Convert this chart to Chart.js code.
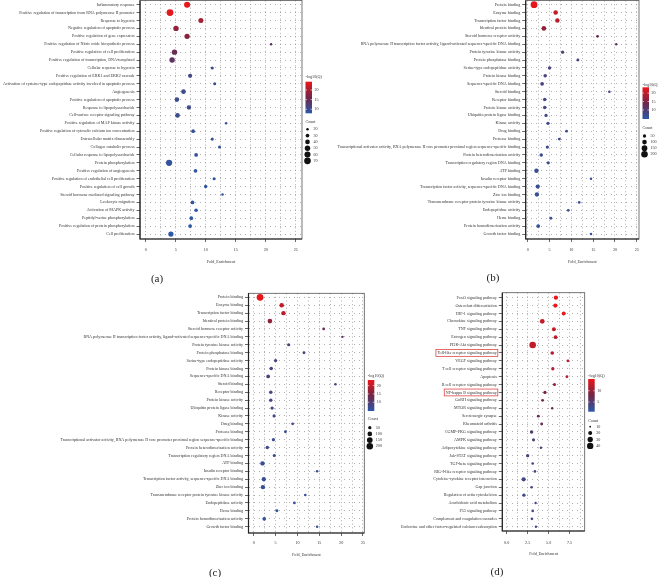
<!DOCTYPE html>
<html>
<head>
<meta charset="utf-8">
<script src="https://cdn.jsdelivr.net/npm/chart.js@4.4.1/dist/chart.umd.min.js"></script>
<style>
  body { margin: 0; background: #fff; width: 658px; height: 577px; position: relative; overflow: hidden; font-family: "Liberation Serif", serif; }
  canvas { position: absolute; }
  .tag { position: absolute; font-size: 11px; color: #222; transform: translate(-50%, -50%); }
</style>
</head>
<body>
<canvas id="chartA"></canvas>
<canvas id="chartB"></canvas>
<canvas id="chartC"></canvas>
<canvas id="chartD"></canvas>
<div class="tag" style="left:157px;top:278px">(a)</div>
<div class="tag" style="left:493px;top:277px">(b)</div>
<div class="tag" style="left:215px;top:572px">(c)</div>
<div class="tag" style="left:497px;top:571px">(d)</div>
<script>
// ---- data: (a) biological process ----
const termsA = [
  "Inflammatory response",
  "Positive regulation of transcription from RNA polymerase II promoter",
  "Response to hypoxia",
  "Negative regulation of apoptotic process",
  "Positive regulation of gene expression",
  "Positive regulation of Nitric oxide biosynthetic process",
  "Positive regulation of cell proliferation",
  "Positive regulation of transcription, DNA-templated",
  "Cellular response to hypoxia",
  "Positive regulation of ERK1 and ERK2 cascade",
  "Activation of cysteine-type endopeptidase activity involved in apoptotic process",
  "Angiogenesis",
  "Positive regulation of apoptotic process",
  "Response to lipopolysaccharide",
  "Cell-surface receptor signaling pathway",
  "Positive regulation of MAP kinase activity",
  "Positive regulation of cytosolic calcium ion concentration",
  "Extracellular matrix disassembly",
  "Collagen catabolic process",
  "Cellular response to lipopolysaccharide",
  "Protein phosphorylation",
  "Positive regulation of angiogenesis",
  "Positive regulation of endothelial cell proliferation",
  "Positive regulation of cell growth",
  "Steroid hormone mediated signaling pathway",
  "Leukocyte migration",
  "Activation of MAPK activity",
  "Peptidyl-serine phosphorylation",
  "Positive regulation of protein phosphorylation",
  "Cell proliferation"
];
const foldA = [6.9, 4.05, 9.2, 5.05, 6.9, 20.9, 4.8, 4.4, 11.1, 7.4, 11.5, 6.3, 5.2, 7.2, 5.3,
               13.4, 7.9, 11.1, 12.3, 8.4, 3.9, 8.3, 11.4, 10.0, 12.8, 7.8, 8.4, 7.6, 7.4, 4.2];
const countA = [60, 72, 45, 50, 48, 20, 50, 50, 24, 35, 24, 40, 40, 36, 40,
                20, 30, 24, 24, 30, 62, 30, 24, 27, 20, 30, 29, 30, 31, 48];
const logqA = [24.3, 23.8, 19.5, 18.5, 17.8, 13.5, 15, 14, 10.2, 10.5, 10.2, 10.2, 10, 10, 9.8,
               9, 9.2, 9, 9, 9, 8.8, 8.6, 8.5, 8.5, 8.3, 8.2, 8.2, 8, 8, 8];

// ---- data: (b) and (c) molecular function ----
const termsB = [
  "Protein binding",
  "Enzyme binding",
  "Transcription factor binding",
  "Identical protein binding",
  "Steroid hormone receptor activity",
  "RNA polymerase II transcription factor activity, ligand-activated sequence-specific DNA binding",
  "Protein tyrosine kinase activity",
  "Protein phosphatase binding",
  "Serine-type endopeptidase activity",
  "Protein kinase binding",
  "Sequence-specific DNA binding",
  "Steroid binding",
  "Receptor binding",
  "Protein kinase activity",
  "Ubiquitin protein ligase binding",
  "Kinase activity",
  "Drug binding",
  "Protease binding",
  "Transcriptional activator activity, RNA polymerase II core promoter proximal region sequence-specific binding",
  "Protein heterodimerization activity",
  "Transcription regulatory region DNA binding",
  "ATP binding",
  "Insulin receptor binding",
  "Transcription factor activity, sequence-specific DNA binding",
  "Zinc ion binding",
  "Transmembrane receptor protein tyrosine kinase activity",
  "Endopeptidase activity",
  "Heme binding",
  "Protein homodimerization activity",
  "Growth factor binding"
];
const foldB = [1.45, 6.4, 6.8, 3.7, 16.0, 20.3, 8.0, 11.5, 5.0, 4.0, 3.3, 18.7, 3.9, 3.9, 4.2,
               4.65, 8.9, 7.25, 4.5, 3.1, 4.7, 2.0, 14.5, 2.3, 2.1, 11.8, 9.3, 5.3, 2.4, 14.5];
const countB = [215, 95, 90, 100, 35, 25, 45, 38, 50, 55, 65, 28, 55, 55, 48,
                45, 35, 38, 48, 55, 45, 90, 28, 85, 85, 30, 35, 40, 65, 28];
const logqB = [23.2, 20.5, 19.5, 16.5, 13, 12, 9.5, 9, 8.8, 8.6, 8.4, 8.2, 8, 8, 7.8,
               7.6, 7.4, 7.2, 7, 7, 6.8, 6.6, 6.5, 6.4, 6.3, 6.2, 6, 6, 5.9, 5.8];

// ---- data: (d) KEGG pathways ----
const termsD = [
  "FoxO signaling pathway",
  "Osteoclast differentiation",
  "HIF-1 signaling pathway",
  "Chemokine signaling pathway",
  "TNF signaling pathway",
  "Estrogen signaling pathway",
  "PI3K-Akt signaling pathway",
  "Toll-like receptor signaling pathway",
  "VEGF signaling pathway",
  "T cell receptor signaling pathway",
  "Apoptosis",
  "B cell receptor signaling pathway",
  "NF-kappa B signaling pathway",
  "GnRH signaling pathway",
  "MTOR signaling pathway",
  "Serotonergic synapse",
  "Rheumatoid arthritis",
  "CGMP-PKG signaling pathway",
  "AMPK signaling pathway",
  "Adipocytokine signaling pathway",
  "Jak-STAT signaling pathway",
  "TGF-beta signaling pathway",
  "RIG-I-like receptor signaling pathway",
  "Cytokine-cytokine receptor interaction",
  "Gap junction",
  "Regulation of actin cytoskeleton",
  "Arachidonic acid metabolism",
  "P53 signaling pathway",
  "Complement and coagulation cascades",
  "Endocrine and other factor-regulated calcium reabsorption"
];
const foldD = [5.87, 5.8, 6.8, 4.24, 5.63, 5.83, 3.1, 5.43, 7.3, 5.5, 7.18, 5.7, 4.56, 4.28, 5.43,
               3.77, 4.17, 2.97, 3.2, 4.08, 2.5, 3.1, 3.37, 2.02, 2.97, 2.06, 3.45, 3.1, 3.01, 3.49];
const countD = [22, 22, 20, 25, 20, 19, 42, 18, 14, 16, 14, 15, 16, 14, 12,
                14, 14, 17, 15, 12, 16, 13, 13, 22, 13, 16, 12, 13, 13, 12];
const logqD = [15.5, 15.3, 15, 13, 13, 12.8, 12.8, 12, 12, 12, 12, 10.5, 8, 7.5, 7.5,
               7, 7, 5, 4, 4, 3.8, 3.6, 3.5, 3.4, 3.3, 3.2, 3.1, 3.0, 3.0, 2.9];
const highlightD = [7, 12]; // boxed in red

// ---- tick labels ----
const xTicks25 = [0, 5, 10, 15, 20, 25];
const xGrid25 = [0, 2.5, 5, 7.5, 10, 12.5, 15, 17.5, 20, 22.5, 25];
const xTicksD = [0, 2.5, 5, 7.5];
const xGridD = [0, 1.25, 2.5, 3.75, 5, 6.25, 7.5, 8.75];
const qTicksA = [10, 15, 20];
const qTicksB = [10, 15, 20];
const qTicksD = [5, 10];
const countTicksA = [20, 30, 40, 50, 60, 70];
const countTicksB = [50, 100, 150, 200];
const countTicksD = [10, 20, 30, 40];

// colour scale: blue -> dark red -> red
const LOW = [44, 88, 168], MID = [112, 38, 70], HIGH = [234, 22, 26];
function mix(a, b, t) { return a.map((v, i) => Math.round(v + (b[i] - v) * t)); }
function rgb(c) { return 'rgb(' + c.join(',') + ')'; }
function qColor(v, lo, hi) {
  const t = Math.min(1, Math.max(0, (v - lo) / (hi - lo)));
  return rgb(t < 0.5 ? mix(LOW, MID, t * 2) : mix(MID, HIGH, (t - 0.5) * 2));
}
function radius(c, p) {
  const t = (c - p.cmin) / (p.cmax - p.cmin);
  return Math.sqrt(p.rmin * p.rmin + t * (p.rmax * p.rmax - p.rmin * p.rmin));
}

const FAM = "'Liberation Serif', serif";
const F = { family: FAM, size: 4.1 };
const TXT = '#333';

const boxPlugin = {
  id: 'box',
  beforeDatasetsDraw(chart) {
    const { ctx, chartArea: a } = chart;
    ctx.save();
    ctx.strokeStyle = '#555'; ctx.lineWidth = 0.8;
    ctx.strokeRect(a.left, a.top, a.right - a.left, a.bottom - a.top);
    ctx.strokeStyle = '#222'; ctx.lineWidth = 1.2;
    ctx.beginPath();
    ctx.moveTo(a.left, a.top); ctx.lineTo(a.left, a.bottom); ctx.lineTo(a.right, a.bottom);
    ctx.stroke();
    ctx.restore();
  }
};

// colour bar + size legend to the right of the plot, red boxes round labels
function legendFor(p) {
  return {
    id: 'sideLegend',
    afterDraw(chart) {
      const { ctx, chartArea: a } = chart;
      const L = p.legend;
      const x = a.right + 3.5, top = a.top;
      ctx.save();
      ctx.font = '4.1px ' + FAM;
      ctx.textBaseline = 'middle';
      ctx.fillStyle = TXT;
      ctx.fillText('-log10(Q)', x, top + L.title);
      const by = top + L.bar, bh = L.barH, bw = 6.5;
      const g = ctx.createLinearGradient(0, by + bh, 0, by);
      g.addColorStop(0, rgb(LOW)); g.addColorStop(0.5, rgb(MID)); g.addColorStop(1, rgb(HIGH));
      ctx.fillStyle = g;
      ctx.fillRect(x, by, bw, bh);
      ctx.strokeStyle = '#fff'; ctx.lineWidth = 0.6;
      p.qTicks.forEach(v => {
        const ty = by + bh - (v - p.qmin) / (p.qmax - p.qmin) * bh;
        ctx.beginPath();
        ctx.moveTo(x, ty); ctx.lineTo(x + 1.5, ty);
        ctx.moveTo(x + bw - 1.5, ty); ctx.lineTo(x + bw, ty);
        ctx.stroke();
        ctx.fillStyle = TXT;
        ctx.fillText(String(v), x + bw + 2.5, ty);
      });
      ctx.fillText('Count', x, top + L.count);
      p.countTicks.forEach((c, i) => {
        const cy = top + L.item0 + i * L.step;
        ctx.fillStyle = '#111';
        ctx.beginPath(); ctx.arc(x + 2, cy, radius(c, p), 0, 2 * Math.PI); ctx.fill();
        ctx.fillStyle = TXT;
        ctx.fillText(String(c), x + 8, cy);
      });
      if (p.highlight) {
        const ys = chart.scales.y;
        ctx.strokeStyle = '#e04545'; ctx.lineWidth = 0.8;
        p.highlight.forEach(i => {
          const w = ctx.measureText(p.terms[i]).width;
          const right = a.left - 5;
          const cy = ys.getPixelForValue(i);
          ctx.strokeRect(right - w - 2, cy - 3.4, w + 2.5, 6.8);
        });
      }
      ctx.restore();
    }
  };
}

function panel(id, p) {
  const cv = document.getElementById(id);
  cv.width = p.w; cv.height = p.h;
  cv.style.left = p.l + 'px'; cv.style.top = p.t + 'px';
  const XH = p.axisBottom - p.y1;
  new Chart(cv, {
    type: 'bubble',
    data: {
      datasets: [{
        data: p.fold.map((f, i) => ({ x: f, y: i, r: radius(p.count[i], p) })),
        backgroundColor: p.logq.map(v => qColor(v, p.qmin, p.qmax)),
        borderWidth: 0
      }]
    },
    options: {
      responsive: false,
      animation: false,
      events: [],
      layout: { padding: { left: 0, top: p.y0 - p.t, right: p.l + p.w - p.x1, bottom: p.t + p.h - p.axisBottom } },
      plugins: { legend: { display: false }, tooltip: { enabled: false } },
      scales: {
        x: {
          type: 'linear', min: p.xmin, max: p.xmax,
          afterBuildTicks: s => { s.ticks = p.xGrid.map(v => ({ value: v })); },
          afterFit: s => { s.height = XH; },
          border: { display: false, dash: [1, 2.6] },
          grid: {
            color: '#9a9a9a', lineWidth: 0.8, tickLength: 3,
            tickColor: c => (c.tick && p.xTicks.includes(c.tick.value)) ? '#444' : 'rgba(0,0,0,0)',
            tickBorderDash: []
          },
          ticks: {
            autoSkip: false, maxRotation: 0, padding: p.xpad, font: F, color: TXT,
            callback: v => p.xTicks.includes(v) ? p.xfmt(v) : ''
          },
          title: { display: true, text: 'Fold_Enrichment', font: F, color: TXT, padding: 0 }
        },
        y: {
          type: 'linear', reverse: true, min: p.ymin, max: p.ymax,
          afterBuildTicks: s => { s.ticks = p.terms.map((_, i) => ({ value: i })); },
          afterFit: s => { s.width = p.x0 - p.l; },
          border: { display: false, dash: [1, 4] },
          grid: { color: '#9a9a9a', lineWidth: 0.8, tickLength: 3.5, tickColor: '#444', tickBorderDash: [] },
          ticks: { autoSkip: false, padding: 2, font: F, color: TXT, callback: v => p.terms[v] }
        }
      }
    },
    plugins: [boxPlugin, legendFor(p)]
  });
}

const fmtInt = v => String(v);
const fmtOne = v => v.toFixed(1);

panel('chartA', {
  l: 0, t: -5, w: 330, h: 295,
  x0: 140, y0: 0.5, x1: 302, y1: 239, axisBottom: 264.6,
  xmin: -0.95, xmax: 26.05, xTicks: xTicks25, xGrid: xGrid25, xfmt: fmtInt, xpad: 5,
  ymin: -0.53, ymax: 29.63,
  terms: termsA, fold: foldA, count: countA, logq: logqA,
  qmin: 7.9, qmax: 24.3, qTicks: qTicksA,
  cmin: 18, cmax: 72, rmin: 1.1, rmax: 3.4, countTicks: countTicksA,
  legend: { title: 76.8, bar: 81.2, barH: 31.6, count: 121.8, item0: 128.8, step: 6.3 }
});

panel('chartB', {
  l: 330, t: -5, w: 328, h: 295,
  x0: 525.7, y0: 0.5, x1: 639, y1: 239, axisBottom: 264.6,
  xmin: -0.46, xmax: 25.5, xTicks: xTicks25, xGrid: xGrid25, xfmt: fmtInt, xpad: 5,
  ymin: -0.53, ymax: 29.63,
  terms: termsB, fold: foldB, count: countB, logq: logqB,
  qmin: 4.7, qmax: 23.4, qTicks: qTicksB,
  cmin: 25, cmax: 215, rmin: 1.2, rmax: 3.4, countTicks: countTicksB,
  legend: { title: 84.5, bar: 86.8, barH: 31.7, count: 127.2, item0: 135.5, step: 6.1 }
});

panel('chartC', {
  l: 0, t: 288, w: 450, h: 289,
  x0: 248.5, y0: 293.3, x1: 364.3, y1: 533, axisBottom: 557.6,
  xmin: -1.2, xmax: 25.3, xTicks: xTicks25, xGrid: xGrid25, xfmt: fmtInt, xpad: 4,
  ymin: -0.51, ymax: 29.8,
  terms: termsB, fold: foldB, count: countB, logq: logqB,
  qmin: 4.7, qmax: 23.4, qTicks: qTicksB,
  cmin: 25, cmax: 215, rmin: 1.2, rmax: 3.4, countTicks: countTicksB,
  legend: { title: 83, bar: 86.7, barH: 31, count: 126, item0: 134.4, step: 6.2 }
});

panel('chartD', {
  l: 370, t: 288, w: 288, h: 289,
  x0: 502.3, y0: 292.7, x1: 584.7, y1: 531, axisBottom: 556.6,
  xmin: -0.52, xmax: 9.3, xTicks: xTicksD, xGrid: xGridD, xfmt: fmtOne, xpad: 6,
  ymin: -0.63, ymax: 29.54,
  terms: termsD, fold: foldD, count: countD, logq: logqD,
  qmin: 0.7, qmax: 15.2, qTicks: qTicksD,
  cmin: 12, cmax: 42, rmin: 1.2, rmax: 3.3, countTicks: countTicksD,
  legend: { title: 83, bar: 86.3, barH: 32.7, count: 128.3, item0: 134, step: 6.4 },
  highlight: highlightD
});
</script>
</body>
</html>
